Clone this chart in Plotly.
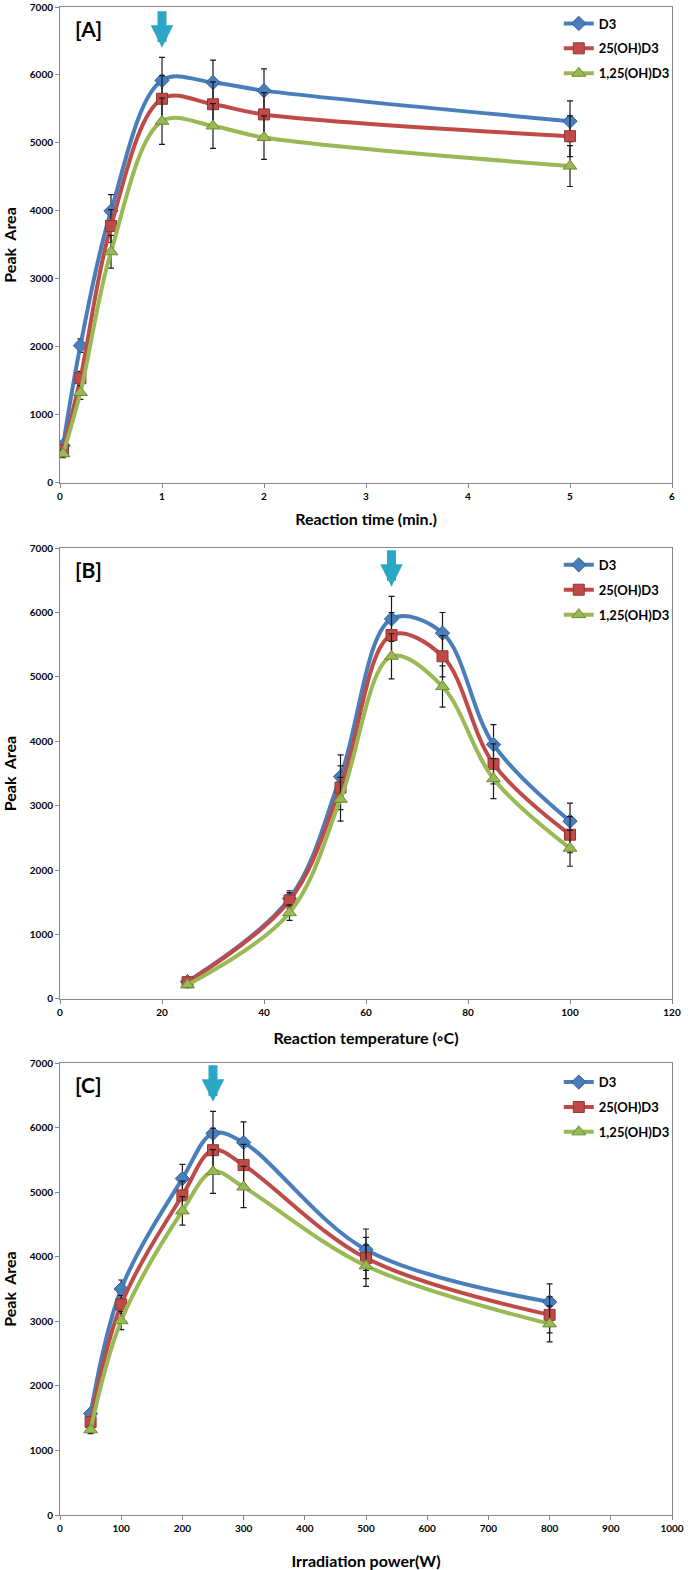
import plotly.graph_objects as go

# ---- data ----
series_names = ["D3", "25(OH)D3", "1,25(OH)D3"]

time_x = [0.03, 0.2, 0.5, 1, 1.5, 2, 5]
time_d3 = [550, 2020, 4000, 5920, 5890, 5770, 5320]
time_25 = [480, 1540, 3780, 5650, 5570, 5420, 5100]
time_125 = [430, 1330, 3400, 5320, 5250, 5080, 4660]
time_err = [60, 100, 240, 340, 330, 320, 300]

temp_x = [25, 45, 55, 65, 75, 85, 100]
temp_d3 = [270, 1560, 3450, 5900, 5680, 3950, 2760]
temp_25 = [260, 1530, 3280, 5650, 5320, 3650, 2550]
temp_125 = [220, 1340, 3100, 5320, 4850, 3420, 2340]
temp_err = [40, 120, 340, 350, 320, 310, 280]

power_x = [50, 100, 200, 250, 300, 500, 800]
power_d3 = [1570, 3500, 5210, 5910, 5770, 4110, 3300]
power_25 = [1440, 3260, 4950, 5650, 5420, 3980, 3100]
power_125 = [1320, 3010, 4710, 5320, 5080, 3860, 2960]
power_err = [60, 140, 220, 340, 320, 320, 280]

panel_labels = ["[A]", "[B]", "[C]"]
x_titles = ["Reaction time (min.)", "Reaction temperature (◦C)", "Irradiation power(W)"]
x_ranges = [[0, 6], [0, 120], [0, 1000]]
x_dticks = [1, 20, 100]
arrow_x = [1, 65, 250]
arrow_y = 6400

colors = ["#4A7EBB", "#BE4B48", "#98B954"]
edge_colors = ["#2F5F9A", "#943634", "#6F8B33"]
symbols = ["diamond", "square", "triangle-up"]
marker_sizes = [11, 11, 12]

panels = [
    (time_x, [time_d3, time_25, time_125], time_err),
    (temp_x, [temp_d3, temp_25, temp_125], temp_err),
    (power_x, [power_d3, power_25, power_125], power_err),
]

# plot areas (paper fractions)
y_domains = [[0.6844, 1.0], [0.3422, 0.6412], [0.0, 0.2997]]
legend_y = [0.999, 0.640, 0.297]
title_standoff = [12, 15, 22]

font_family = "Lato, Open Sans, sans-serif"

fig = go.Figure()

for p, (xs, ys_list, errs) in enumerate(panels):
    sfx = "" if p == 0 else str(p + 1)
    for s, ys in enumerate(ys_list):
        fig.add_trace(go.Scatter(
            x=xs, y=ys, name=series_names[s],
            mode="lines+markers",
            line=dict(color=colors[s], width=4, shape="spline", smoothing=1.0),
            marker=dict(symbol=symbols[s], size=marker_sizes[s], color=colors[s],
                        line=dict(color=edge_colors[s], width=1)),
            error_y=dict(type="data", array=errs, color="#1a1a1a", thickness=1.2, width=3),
            xaxis="x" + sfx, yaxis="y" + sfx,
            legend="legend" + sfx, legendgroup="p%d_s%d" % (p, s),
        ))

layout = dict(
    width=688, height=1570,
    margin=dict(l=60, r=16, t=7, b=55),
    paper_bgcolor="white", plot_bgcolor="white",
    font=dict(family=font_family, color="#000000"),
)

for p in range(3):
    sfx = "" if p == 0 else str(p + 1)
    layout["xaxis" + sfx] = dict(
        domain=[0, 1], anchor="y" + sfx, range=x_ranges[p], dtick=x_dticks[p],
        automargin=False,
        showgrid=False, zeroline=False, showline=True, linecolor="#868686", linewidth=1,
        mirror=True, ticks="outside", ticklen=4, tickcolor="#868686",
        tickfont=dict(size=10, weight="bold"),
        title=dict(text=x_titles[p], font=dict(size=16, weight="bold"), standoff=title_standoff[p]),
    )
    layout["yaxis" + sfx] = dict(
        domain=y_domains[p], anchor="x" + sfx, range=[0, 7000], dtick=1000,
        automargin=False,
        showgrid=False, zeroline=False, showline=True, linecolor="#868686", linewidth=1,
        mirror=True, ticks="outside", ticklen=4, tickcolor="#868686",
        tickfont=dict(size=10, weight="bold"),
        title=dict(text="Peak  Area", font=dict(size=16, weight="bold"), standoff=14),
    )
    layout["legend" + sfx] = dict(
        x=0.815, y=legend_y[p], xanchor="left", yanchor="top",
        bgcolor="rgba(0,0,0,0)", font=dict(size=13, weight="bold"),
        itemwidth=30, tracegroupgap=5,
    )

fig.update_layout(**layout)

for p in range(3):
    sfx = "" if p == 0 else str(p + 1)
    fig.add_annotation(
        text=panel_labels[p], xref="x" + sfx + " domain", yref="y" + sfx + " domain",
        x=0.022, y=0.985, xanchor="left", yanchor="top", showarrow=False,
        font=dict(size=21, weight="bold", color="#000000"),
    )
    fig.add_annotation(
        text="", xref="x" + sfx, yref="y" + sfx, x=arrow_x[p], y=arrow_y,
        ax=0, ay=-38, showarrow=True, arrowhead=2, arrowsize=0.5, arrowwidth=9,
        arrowcolor="#2BA7C6",
    )

# drop the default page margin so the figure sits at the window's top-left
fig.write_html("out.html", config={"displayModeBar": False},
               post_script="document.body.style.margin='0';")
